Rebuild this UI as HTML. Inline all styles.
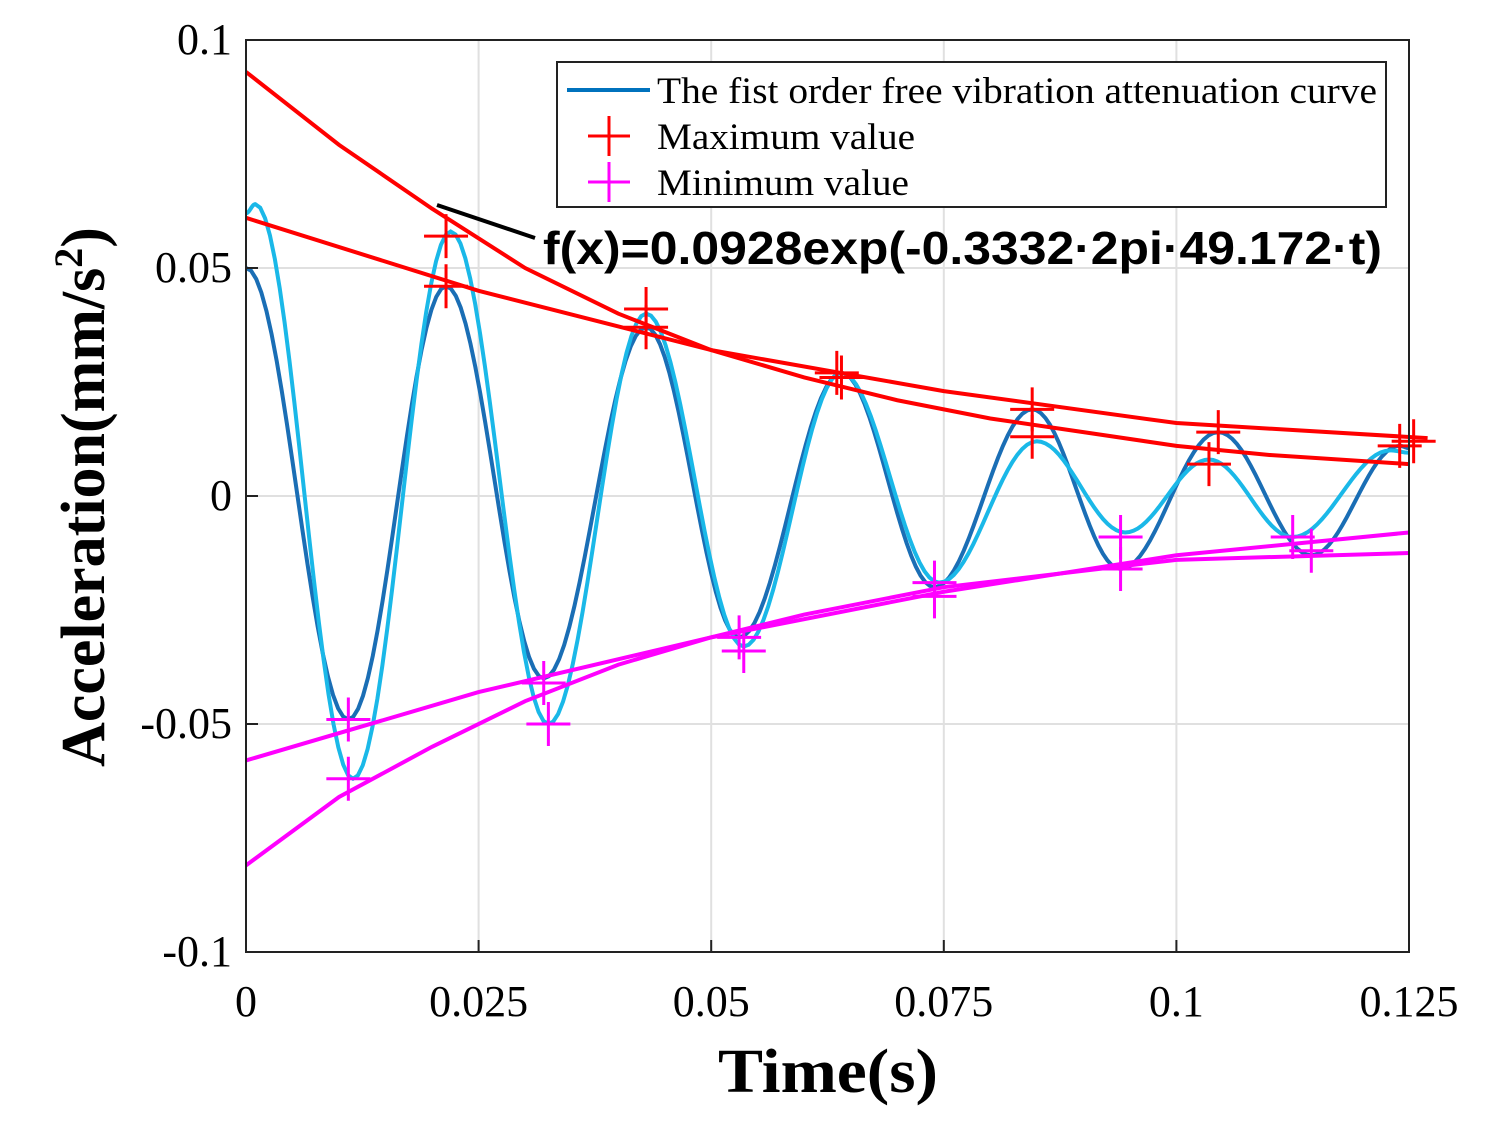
<!DOCTYPE html>
<html><head><meta charset="utf-8"><style>
html,body{margin:0;padding:0;background:#fff;}
svg text{font-family:"Liberation Serif",serif;}
</style></head><body>
<svg id="chart" width="1487" height="1127" xmlns="http://www.w3.org/2000/svg">
<g id="grid"></g>
<g id="plot"></g>
<rect x="246" y="40" width="1163" height="912" fill="none" stroke="#222" stroke-width="2"/>
<g id="ticks"></g>
<text x="828" y="1092" text-anchor="middle" font-size="62" font-weight="bold" textLength="220" lengthAdjust="spacingAndGlyphs">Time(s)</text>
<text transform="translate(104,497) rotate(-90)" text-anchor="middle" font-size="62" font-weight="bold">Acceleration(mm/s<tspan dy="-22" font-size="40">2</tspan><tspan dy="22">)</tspan></text>
<g>
<rect x="557" y="62" width="829" height="145" fill="#fff" stroke="#222" stroke-width="2"/>
<line x1="567" y1="90" x2="650" y2="90" stroke="#0072BD" stroke-width="4"/>
<text x="657" y="103" font-size="37" textLength="720" lengthAdjust="spacingAndGlyphs">The fist order free vibration attenuation curve</text>
<path d="M588,136 h42 M609,116 v40" stroke="#ff0000" stroke-width="3"/>
<text x="657" y="149" font-size="37" textLength="258" lengthAdjust="spacingAndGlyphs">Maximum value</text>
<path d="M588,182 h42 M609,162 v40" stroke="#ff00ff" stroke-width="3"/>
<text x="657" y="195" font-size="37" textLength="252" lengthAdjust="spacingAndGlyphs">Minimum value</text>
</g>
<line x1="437" y1="205" x2="535" y2="238" stroke="#000" stroke-width="4"/>
<text x="543" y="264" font-size="46" font-weight="bold" textLength="839" lengthAdjust="spacingAndGlyphs" style="font-family:'Liberation Sans',sans-serif">f(x)=0.0928exp(-0.3332·2pi·49.172·t)</text>
</svg>
<script>
const xTicks=[0,0.025,0.05,0.075,0.1,0.125];
const xTickLabels=["0","0.025","0.05","0.075","0.1","0.125"];
const yTicks=[-0.1,-0.05,0,0.05,0.1];
const yTickLabels=["-0.1","-0.05","0","0.05","0.1"];
const darkT=[0,0.011,0.0215,0.032,0.043,0.053,0.064,0.074,0.0845,0.094,0.1045,0.1145,0.124,0.125];
const darkV=[0.05,-0.049,0.046,-0.040,0.037,-0.031,0.027,-0.020,0.019,-0.016,0.014,-0.013,0.011,0.0105];
const lightT=[0,0.001,0.0115,0.022,0.0325,0.043,0.0535,0.064,0.0745,0.085,0.0945,0.1035,0.1125,0.123,0.125];
const lightV=[0.062,0.064,-0.062,0.058,-0.050,0.040,-0.033,0.027,-0.019,0.012,-0.008,0.008,-0.009,0.010,0.0095];
const redAT=[0,0.01,0.02,0.03,0.04,0.05,0.06,0.07,0.08,0.09,0.1,0.11,0.125];
const redAV=[0.093,0.077,0.063,0.050,0.040,0.032,0.026,0.021,0.017,0.014,0.011,0.009,0.007];
const redBT=[0,0.025,0.05,0.075,0.1,0.127];
const redBV=[0.061,0.045,0.032,0.023,0.016,0.0127];
const magAT=[0,0.01,0.02,0.03,0.04,0.05,0.06,0.075,0.1,0.125];
const magAV=[-0.081,-0.066,-0.055,-0.045,-0.037,-0.031,-0.026,-0.020,-0.014,-0.0125];
const magBT=[0,0.025,0.05,0.075,0.1,0.125];
const magBV=[-0.058,-0.043,-0.031,-0.021,-0.013,-0.008];
const maxT=[0.0215,0.0215,0.043,0.043,0.0635,0.064,0.0845,0.0845,0.1045,0.1035,0.124,0.1255];
const maxV=[0.057,0.046,0.041,0.037,0.027,0.026,0.019,0.013,0.014,0.007,0.011,0.012];
const minT=[0.011,0.011,0.032,0.0325,0.053,0.0535,0.074,0.074,0.094,0.094,0.1125,0.1145];
const minV=[-0.049,-0.062,-0.041,-0.050,-0.031,-0.034,-0.019,-0.022,-0.009,-0.016,-0.009,-0.012];

const NS="http://www.w3.org/2000/svg";
const X=t=>246+t/0.125*1163;
const Y=v=>496-v*4560;
function mk(tag,attrs,parent){const e=document.createElementNS(NS,tag);for(const k in attrs)e.setAttribute(k,attrs[k]);document.getElementById(parent).appendChild(e);return e;}
xTicks.forEach((t,i)=>{
 if(i>0&&i<xTicks.length-1){const g=mk('line',{x1:X(t),x2:X(t),y1:40,y2:952,stroke:'#e0e0e0','stroke-width':2},'grid');
 
 }
 const tk=mk('line',{x1:X(t),x2:X(t),y1:952,y2:940,stroke:'#222','stroke-width':2},'ticks');
 
 
 const l=mk('text',{x:X(t),y:1016,'text-anchor':'middle','font-size':44},'ticks');l.textContent=xTickLabels[i];
 
 
});
yTicks.forEach((v,i)=>{
 if(i>0&&i<yTicks.length-1){const g=mk('line',{x1:246,x2:1409,y1:Y(v),y2:Y(v),stroke:'#e0e0e0','stroke-width':2},'grid');
 
 }
 const tk=mk('line',{x1:246,x2:258,y1:Y(v),y2:Y(v),stroke:'#222','stroke-width':2},'ticks');
 
 
 const l=mk('text',{x:232,y:Y(v)+14,'text-anchor':'end','font-size':44},'ticks');l.textContent=yTickLabels[i];
 
 
});
function osc(T,V){let d=`M${X(T[0])},${Y(V[0])}`;for(let i=0;i<T.length-1;i++){for(let k=1;k<=20;k++){const f=k/20,s=(1-Math.cos(Math.PI*f))/2;d+=` L${X(T[i]+(T[i+1]-T[i])*f)},${Y(V[i]+(V[i+1]-V[i])*s)}`;}}return d;}
function poly(T,V){return T.map((t,i)=>(i?'L':'M')+X(t)+','+Y(V[i])).join(' ');}
let p=mk('path',{d:osc(darkT,darkV),fill:'none',stroke:'#1a6eb5','stroke-width':4},'plot');


p=mk('path',{d:osc(lightT,lightV),fill:'none',stroke:'#1ab8e8','stroke-width':4},'plot');


p=mk('path',{d:poly(redAT,redAV),fill:'none',stroke:'#ff0000','stroke-width':4},'plot');


p=mk('path',{d:poly(redBT,redBV),fill:'none',stroke:'#ff0000','stroke-width':4},'plot');


p=mk('path',{d:poly(magAT,magAV),fill:'none',stroke:'#ff00ff','stroke-width':4},'plot');


p=mk('path',{d:poly(magBT,magBV),fill:'none',stroke:'#ff00ff','stroke-width':4},'plot');


maxT.forEach((t,i)=>{const m=mk('path',{d:`M${X(t)-22},${Y(maxV[i])} h44 M${X(t)},${Y(maxV[i])-22} v44`,stroke:'#ff0000','stroke-width':3},'plot');
 
 });
minT.forEach((t,i)=>{const m=mk('path',{d:`M${X(t)-22},${Y(minV[i])} h44 M${X(t)},${Y(minV[i])-22} v44`,stroke:'#ff00ff','stroke-width':3},'plot');
 
 });
</script>
</body></html>
